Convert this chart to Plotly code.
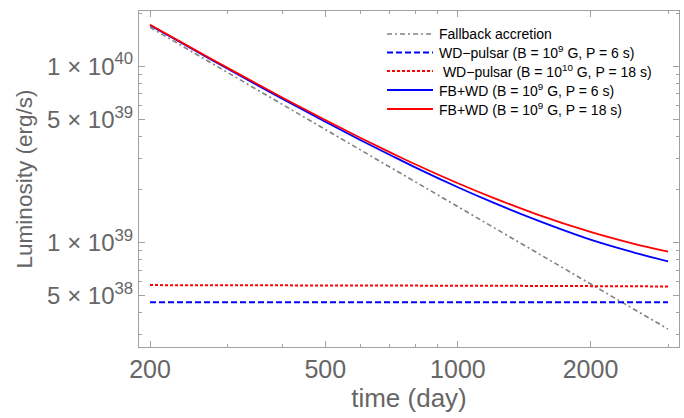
import plotly.graph_objects as go

# time (day)
t = [200, 250, 300, 400, 500, 600, 700, 800, 1000, 1200, 1500, 2000, 2500, 3000]
# luminosity (erg/s)
fallback = [1.66e40, 1.20e40, 9.21e39, 6.06e39, 4.38e39, 3.36e39, 2.69e39, 2.21e39,
            1.60e39, 1.23e39, 8.87e38, 5.84e38, 4.22e38, 3.24e38]
wd_b9_p6 = [4.6e38, 4.6e38, 4.6e38, 4.6e38, 4.6e38, 4.6e38, 4.6e38, 4.6e38,
            4.6e38, 4.6e38, 4.6e38, 4.6e38, 4.6e38, 4.6e38]
wd_b10_p18 = [5.75e38, 5.75e38, 5.74e38, 5.74e38, 5.73e38, 5.73e38, 5.72e38, 5.72e38,
              5.71e38, 5.70e38, 5.69e38, 5.68e38, 5.66e38, 5.65e38]
fbwd_p6 = [1.706e40, 1.246e40, 9.67e39, 6.52e39, 4.84e39, 3.82e39, 3.15e39, 2.67e39,
           2.06e39, 1.69e39, 1.35e39, 1.04e39, 8.82e38, 7.84e38]
fbwd_p18 = [1.717e40, 1.257e40, 9.78e39, 6.63e39, 4.95e39, 3.93e39, 3.26e39, 2.78e39,
            2.17e39, 1.80e39, 1.457e39, 1.151e39, 9.88e38, 8.89e38]

names = ["Fallback accretion",
         "WD\u2212pulsar (B = 10<sup>9</sup> G, P = 6 s)",
         "\u00a0WD\u2212pulsar (B = 10<sup>10</sup> G, P = 18 s)",
         "FB+WD (B = 10<sup>9</sup> G, P = 6 s)",
         "FB+WD (B = 10<sup>9</sup> G, P = 18 s)"]
series = [fallback, wd_b9_p6, wd_b10_p18, fbwd_p6, fbwd_p18]
colors = ["#808080", "#0000ff", "#ff0000", "#0000ff", "#ff0000"]
dashes = ["5px,3px,2px,3px", "6px,3px", "3px,2px", "solid", "solid"]
widths = [1.6, 2, 2, 1.8, 1.8]

x_ticks = [200, 500, 1000, 2000]
x_ticktext = ["200", "500", "1000", "2000"]
y_ticks = [5e38, 1e39, 5e39, 1e40]
y_ticktext = ["5 \u00d7 10<sup>38</sup>", "1 \u00d7 10<sup>39</sup>",
              "5 \u00d7 10<sup>39</sup>", "1 \u00d7 10<sup>40</sup>"]
x_minor = [300, 400, 600, 700, 800, 900, 3000]
y_minor = [3e38, 4e38, 6e38, 7e38, 8e38, 9e38, 2e39, 3e39, 4e39, 6e39, 7e39, 8e39, 9e39, 2e40]

FONT = "Liberation Sans, Arial"

fig = go.Figure()
for i, ys in enumerate(series):
    ln = dict(color=colors[i], width=widths[i], dash=dashes[i])
    if i >= 3:
        ln.update(shape="spline", smoothing=1)
    fig.add_trace(go.Scatter(x=t, y=ys, mode="lines", name=names[i], line=ln,
                             showlegend=False))

# legend drawn inside the frame (line samples + labels)
leg_x0, leg_x1, leg_tx = 0.4593, 0.5444, 0.5519
leg_y = [0.9315, 0.8765, 0.8214, 0.7649, 0.7083]
for i in range(5):
    fig.add_shape(type="line", xref="x domain", yref="y domain",
                  x0=leg_x0, x1=leg_x1, y0=leg_y[i], y1=leg_y[i],
                  line=dict(color=colors[i], width=widths[i], dash=dashes[i]))
    fig.add_annotation(xref="x domain", yref="y domain", x=leg_tx, y=leg_y[i],
                       text=names[i], showarrow=False, xanchor="left", yanchor="middle",
                       font=dict(family=FONT, size=14, color="black"))

axis_common = dict(type="log", showgrid=False, zeroline=False, showline=True,
                   linecolor="#a0a0a0", linewidth=1, mirror="ticks",
                   ticks="inside", ticklen=6, tickcolor="#a0a0a0", tickwidth=1)

fig.update_layout(
    width=684, height=418,
    margin=dict(l=139, r=5, t=11, b=71),
    paper_bgcolor="white", plot_bgcolor="white",
    font=dict(family=FONT, color="#666666"),
    showlegend=False,
    xaxis=dict(axis_common, range=[2.276, 3.502], tickmode="array",
               tickvals=x_ticks, ticktext=x_ticktext,
               tickfont=dict(family=FONT, size=25, color="#666666"),
               minor=dict(tickmode="array", tickvals=x_minor, ticks="inside",
                          ticklen=3, tickcolor="#a0a0a0"),
               title=dict(text="time (day)", font=dict(family=FONT, size=26, color="#666666"), standoff=4)),
    yaxis=dict(axis_common, range=[38.409, 40.3125], tickmode="array",
               tickvals=y_ticks, ticktext=y_ticktext,
               tickfont=dict(family=FONT, size=24, color="#666666"),
               minor=dict(tickmode="array", tickvals=y_minor, ticks="inside",
                          ticklen=3, tickcolor="#a0a0a0"),
               title=dict(text="Luminosity (erg/s)", font=dict(family=FONT, size=22.5, color="#666666"), standoff=8)),
)

fig.write_html("out.html")
